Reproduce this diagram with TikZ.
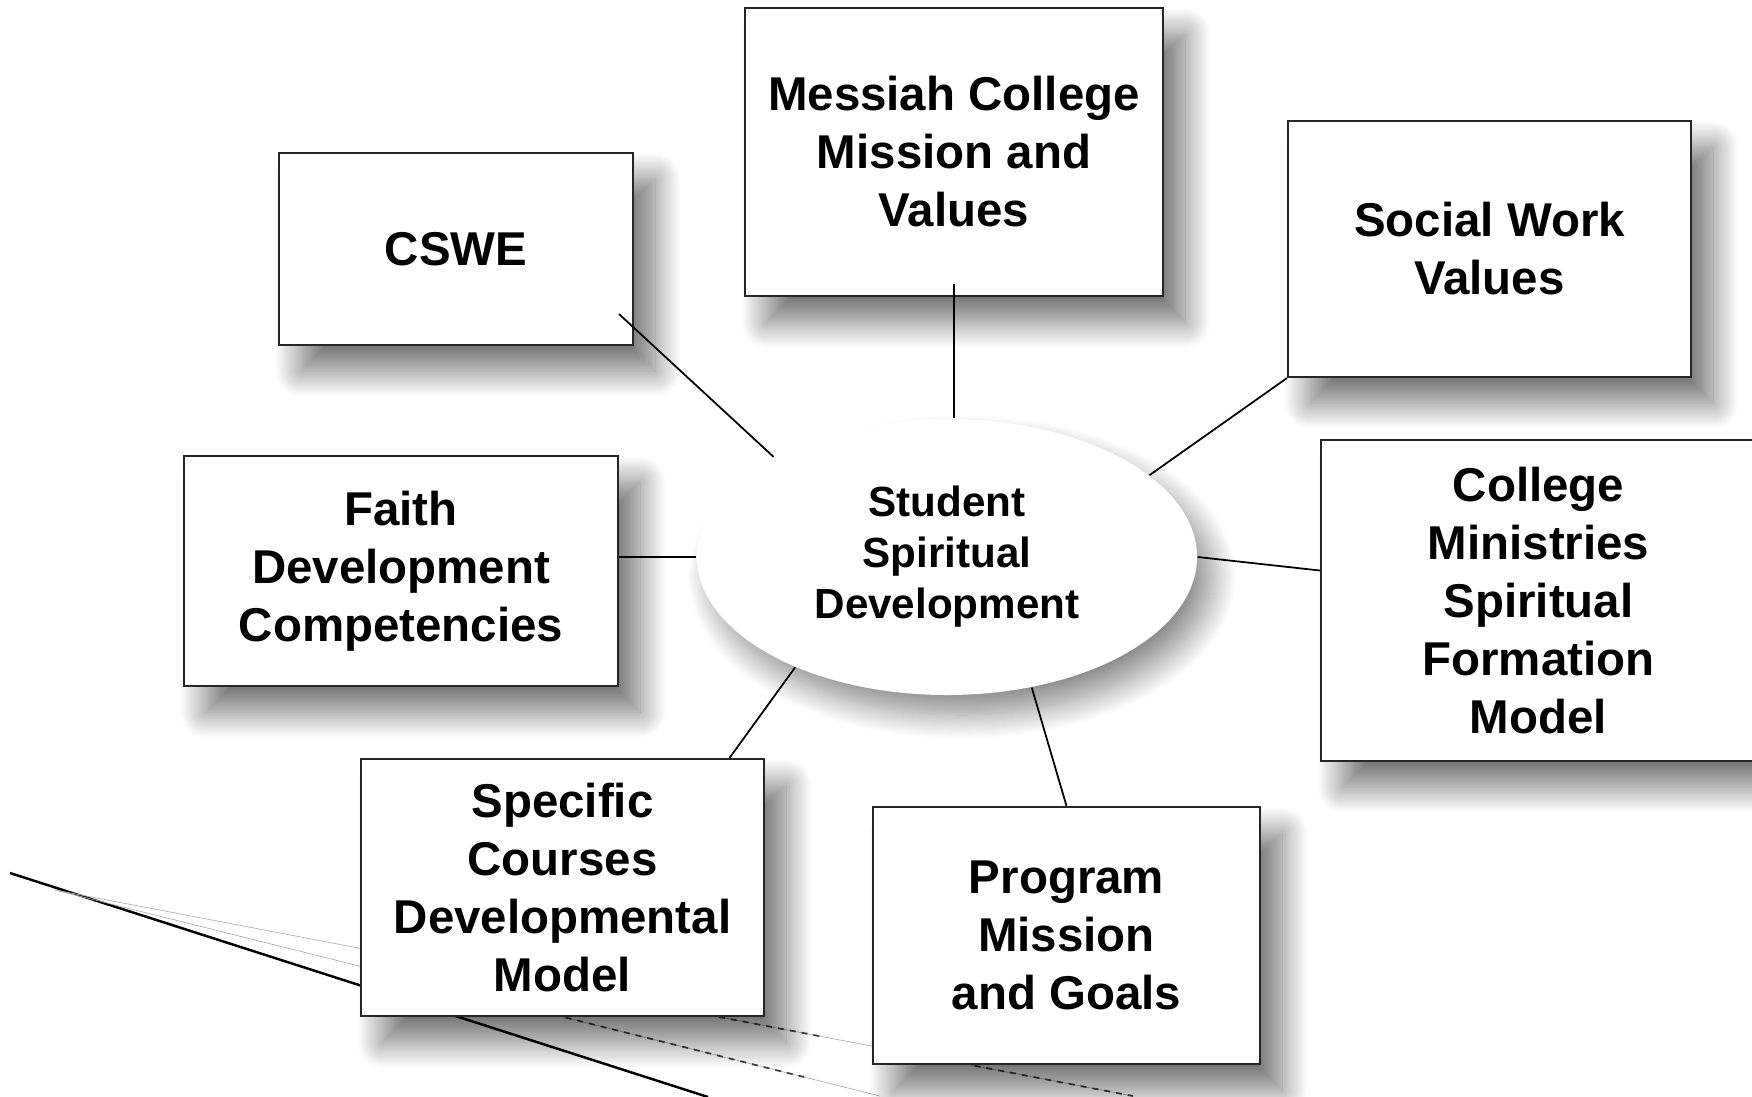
\documentclass[tikz,border=0pt]{standalone}
\usepackage{fontspec}
\setmainfont{Liberation Sans}
\usepackage{tikz}
\usetikzlibrary{calc,shapes.geometric,shadows.blur}

\begin{document}
\begin{tikzpicture}[x=1mm,y=1mm,
  every node/.style={inner sep=0pt,align=center},
  box/.style={rectangle,draw=black!85,line width=0.6pt,fill=white,
    font=\fontsize{13.5}{16.5}\selectfont\bfseries,
    blur shadow={shadow xshift=2.2mm,shadow yshift=-2.6mm,shadow blur radius=2.6mm,
      shadow blur steps=24,shadow opacity=55}},
  hubstyle/.style={ellipse,fill=white,
    font=\fontsize{12}{14.5}\selectfont\bfseries,
    blur shadow={shadow xshift=1.5mm,shadow yshift=-2mm,shadow blur radius=2.4mm,
      shadow blur steps=24,shadow opacity=45}},
  link/.style={black,line width=0.5pt},
  stray/.style={black!30,line width=0.2pt},
  straydot/.style={black!75,line width=0.5pt,dash pattern=on 0.6mm off 0.6mm}]

\useasboundingbox (0,0) rectangle (175.2,-109.6);

% loose lines in the lower left corner, under the boxes
\coordinate (s0) at (1.0,-87.3);
\coordinate (s1) at (70.8,-109.7);
\coordinate (s2) at (5.5,-89.0);
\coordinate (a1) at (88.0,-109.6);
\coordinate (b1) at (113.3,-109.6);
\draw [black,line width=0.7pt] (s0) -- (s1);
\draw [stray] (s2) -- (a1);
\draw [stray] (s2) -- (b1);
\draw [straydot] ($(s2)!0.619!(a1)$) -- ($(s2)!0.908!(a1)$);
\draw [straydot] ($(s2)!0.616!(b1)$) -- ($(s2)!0.712!(b1)$);
\draw [straydot] ($(s2)!0.853!(b1)$) -- (b1);

% centre
\node (hub) [hubstyle,minimum width=50mm,minimum height=27.6mm] at (94.7,-55.7)
  {Student\\Spiritual\\Development};

% sources round the centre
\node (cswe) [box,minimum width=35.4mm,minimum height=19.2mm] at (45.6,-24.9) {CSWE};
\node (mission) [box,minimum width=41.8mm,minimum height=28.8mm] at (95.4,-15.2)
  {Messiah College\\Mission and\\Values};
\node (swvalues) [box,minimum width=40.3mm,minimum height=25.6mm] at (148.95,-24.9)
  {Social Work\\Values};
\node (faith) [box,minimum width=43.4mm,minimum height=23mm] at (40.1,-57.1)
  {Faith\\Development\\Competencies};
\node (ministries) [box,minimum width=43.5mm,minimum height=32.1mm] at (153.85,-60.05)
  {College\\Ministries\\Spiritual\\Formation\\Model};
\node (courses) [box,minimum width=40.3mm,minimum height=25.7mm] at (56.25,-88.75)
  {Specific\\Courses\\Developmental\\Model};
\node (program) [box,minimum width=38.7mm,minimum height=25.7mm] at (106.65,-93.55)
  {Program\\Mission\\and Goals};

% spokes
\draw [link] ([xshift=-1.5mm,yshift=3.2mm]cswe.south east) -- (hub.150);
\draw [link] ([yshift=1.3mm]mission.south) -- (mission.south |- hub.north);
\draw [link] (swvalues.south west) -- (hub.22);
\draw [link] (faith.east |- hub.west) -- (hub.west);
\draw [link] (hub.east) -- ([yshift=3mm]ministries.west);
\draw [link] (hub.-57) -- (program.north);
\draw [link] (hub.216) -- ([xshift=16.7mm]courses.north);
\end{tikzpicture}
\end{document}
